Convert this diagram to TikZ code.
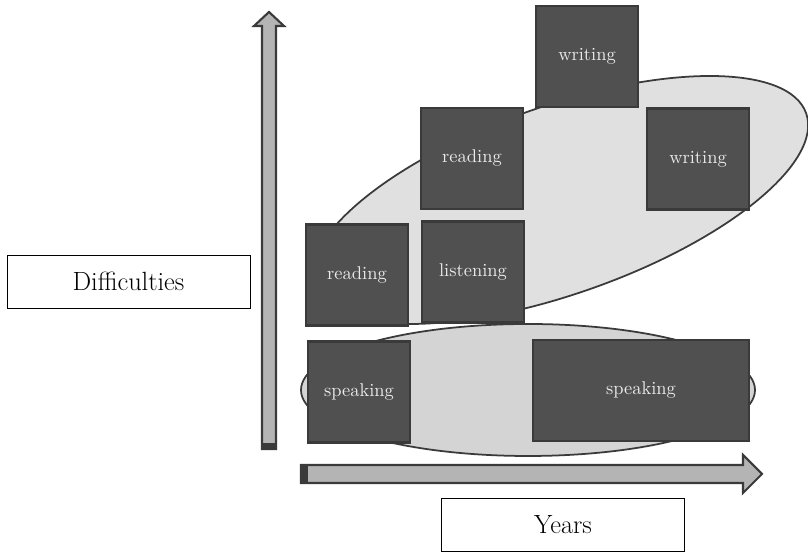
\documentclass[tikz,border=0pt]{standalone}
\usepackage{tikz}

\definecolor{boxgray}{HTML}{505050}
\definecolor{edgegray}{HTML}{3A3A3A}
\definecolor{upperfill}{HTML}{E0E0E0}
\definecolor{lowerfill}{HTML}{D4D4D4}
\definecolor{arrowfill}{HTML}{B4B4B4}

\begin{document}
\begin{tikzpicture}[
  skill/.style={draw=edgegray, line width=1.2pt, fill=boxgray, text=white!92!black,
    minimum width=2.04cm, minimum height=2.02cm, inner sep=0pt,
    font=\fontsize{10.5}{12}\selectfont},
  axislabel/.style={draw=black, thin, fill=white, minimum width=4.86cm,
    minimum height=1.06cm, font=\fontsize{15}{18}\selectfont},
  blob/.style={draw=edgegray, line width=1pt},
  axisarrow/.style={draw=edgegray, line width=1.2pt, fill=arrowfill, line join=miter}
]
  \useasboundingbox (0,0) rectangle (16.16,11.04);

  % groups
  \draw[blob, fill=upperfill, rotate around={19.4:(11.2,7.04)}] (11.2,7.04) ellipse (5.22 and 1.88);
  \draw[blob, fill=lowerfill] (10.56,3.24) ellipse (4.54 and 1.32);

  % skills
  \node[skill] (wrtop) at (11.74,9.91) {writing};
  \node[skill] (wrright) at (13.96,7.86) {writing};
  \node[skill] (rdtop) at (9.44,7.87) {reading};
  \node[skill] (rdleft) at (7.14,5.54) {reading};
  \node[skill] (lsn) at (9.46,5.6) {listening};
  \node[skill] (spleft) at (7.18,3.2) {speaking};
  \node[skill, minimum width=4.32cm] (spright) at (12.82,3.23) {speaking};

  % axes
  \draw[axisarrow] (5.24,2.06) -- (5.24,10.52) -- (5.08,10.52) -- (5.38,10.8)
    -- (5.68,10.52) -- (5.52,10.52) -- (5.52,2.06) -- cycle;
  \fill[edgegray] (5.24,2.06) rectangle (5.52,2.18);
  \draw[axisarrow] (6.02,1.38) -- (14.86,1.38) -- (14.86,1.18) -- (15.24,1.56)
    -- (14.86,1.94) -- (14.86,1.74) -- (6.02,1.74) -- cycle;
  \fill[edgegray] (6.02,1.38) rectangle (6.16,1.74);

  \node[axislabel] (diff) at (2.57,5.41) {Difficulties};
  \node[axislabel] (years) at (11.26,0.55) {Years};
\end{tikzpicture}
\end{document}
